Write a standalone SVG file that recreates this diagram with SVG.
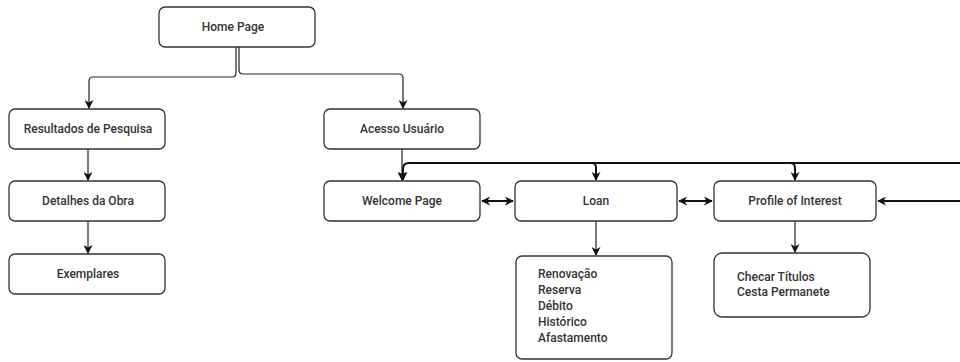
<svg xmlns="http://www.w3.org/2000/svg" width="960" height="362" viewBox="0 0 960 362">
<style>
.box{fill:#fff;stroke:#333;stroke-width:1.3}
.lbl{font-family:Roboto,"Liberation Sans",Arial,sans-serif;font-weight:500;font-size:12px;fill:#333;text-anchor:middle;dominant-baseline:central}
.lst{font-family:Roboto,"Liberation Sans",Arial,sans-serif;font-weight:500;font-size:12px;fill:#333;dominant-baseline:central}
.c{fill:none;stroke:#222;stroke-width:1.2}
.t{fill:none;stroke:#111;stroke-width:2}
</style>
<defs>
<marker id="b" viewBox="0 0 10 10" refX="9" refY="5" markerWidth="9" markerHeight="9" markerUnits="userSpaceOnUse" orient="auto-start-reverse"><path d="M0,0 L10,5 L0,10 L3,5 Z" fill="#111"/></marker>
</defs>
<g id="connectors">
<path class="c" d="M236,47 V73 Q236,77 232,77 H93 Q89,77 89,81 V108" marker-end="url(#b)"/>
<path class="c" d="M239,47 V70 Q239,74 243,74 H399 Q403,74 403,78 V108" marker-end="url(#b)"/>
<path class="c" d="M88,149 V180" marker-end="url(#b)"/>
<path class="c" d="M88,221 V253" marker-end="url(#b)"/>
<path class="c" d="M402,149 V180" marker-end="url(#b)"/>
<path class="t" d="M960,163 H409 Q403,163 403,169 V180" marker-end="url(#b)"/>
<path class="t" d="M592,163 Q596,163 596,168 V180" marker-end="url(#b)"/>
<path class="t" d="M790,163 Q795,163 795,168 V180" marker-end="url(#b)"/>
<path class="c" d="M596,221 V255" marker-end="url(#b)"/>
<path class="c" d="M795,221 V252" marker-end="url(#b)"/>
<path class="t" d="M482,201 H513" marker-start="url(#b)" marker-end="url(#b)"/>
<path class="t" d="M679,201 H712" marker-start="url(#b)" marker-end="url(#b)"/>
<path class="t" d="M960,201 H878" marker-end="url(#b)"/>
</g>
<g id="home"><rect class="box" x="159" y="7" width="156" height="40" rx="6"/><text class="lbl" x="233" y="27">Home Page</text></g>
<g id="resultados"><rect class="box" x="9" y="109" width="156" height="40" rx="6"/><text class="lbl" x="88" y="129">Resultados de Pesquisa</text></g>
<g id="detalhes"><rect class="box" x="9" y="181" width="156" height="40" rx="6"/><text class="lbl" x="88" y="201">Detalhes da Obra</text></g>
<g id="exemplares"><rect class="box" x="9" y="254" width="156" height="40" rx="6"/><text class="lbl" x="88" y="274">Exemplares</text></g>
<g id="acesso"><rect class="box" x="324" y="109" width="156" height="40" rx="6"/><text class="lbl" x="402" y="129">Acesso Usuário</text></g>
<g id="welcome"><rect class="box" x="324" y="181" width="156" height="40" rx="6"/><text class="lbl" x="402" y="201">Welcome Page</text></g>
<g id="loan"><rect class="box" x="515" y="181" width="162" height="40" rx="6"/><text class="lbl" x="596" y="201">Loan</text></g>
<g id="profile"><rect class="box" x="714" y="181" width="162" height="40" rx="6"/><text class="lbl" x="795" y="201">Profile of Interest</text></g>
<g id="loan-items"><rect class="box" x="516" y="256" width="156" height="103" rx="6"/>
<text class="lst" x="538" y="274">Renovação</text>
<text class="lst" x="538" y="290">Reserva</text>
<text class="lst" x="538" y="306">Débito</text>
<text class="lst" x="538" y="322">Histórico</text>
<text class="lst" x="538" y="338">Afastamento</text></g>
<g id="profile-items"><rect class="box" x="714" y="253" width="156" height="64" rx="8"/>
<text class="lst" x="737" y="277">Checar Títulos</text>
<text class="lst" x="737" y="292">Cesta Permanete</text></g>
</svg>
